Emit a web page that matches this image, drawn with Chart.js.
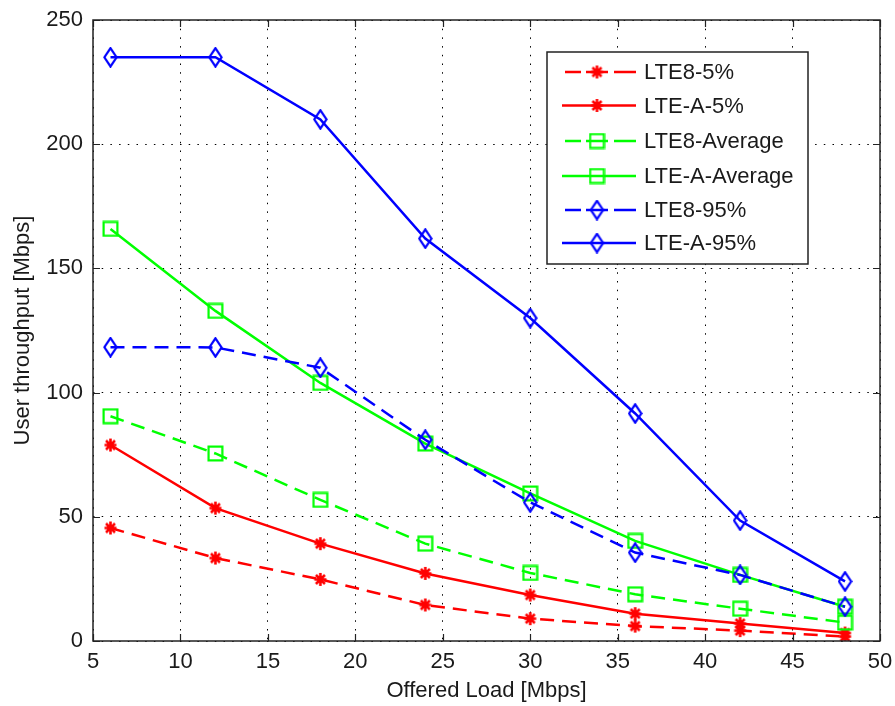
<!DOCTYPE html>
<html><head><meta charset="utf-8">
<script src="https://cdn.jsdelivr.net/npm/chart.js@4.4.0/dist/chart.umd.min.js"></script>
<style>html,body{margin:0;padding:0;background:#fff;}#wrap{width:895px;height:706px;position:relative;}</style>
</head><body><div id="wrap"><canvas id="c" width="895" height="706"></canvas></div>
<script>
const offeredLoad = [6, 12, 18, 24, 30, 36, 42, 48];
const lte8_5   = [45.5, 33.4, 24.8, 14.5, 9.0, 6.0, 4.2, 1.8];
const lteA_5   = [78.9, 53.5, 39.2, 27.2, 18.5, 11.0, 7.0, 3.2];
const lte8_avg = [90.5, 75.5, 56.8, 39.2, 27.4, 18.8, 13.0, 7.4];
const lteA_avg = [165.9, 132.9, 103.9, 79.5, 59.4, 40.3, 26.6, 13.8];
const lte8_95  = [118.3, 118.2, 110.0, 81.0, 55.8, 35.6, 26.6, 13.8];
const lteA_95  = [235.0, 235.0, 210.0, 162.0, 130.0, 91.6, 48.5, 24.0];
const seriesNames = ['LTE8-5%', 'LTE-A-5%', 'LTE8-Average', 'LTE-A-Average', 'LTE8-95%', 'LTE-A-95%'];
const xTicks = [5, 10, 15, 20, 25, 30, 35, 40, 45, 50];
const yTicks = [0, 50, 100, 150, 200, 250];
const xTitle = 'Offered Load [Mbps]';
const yTitle = 'User throughput [Mbps]';

const RED = '#ff0000', GREEN = '#00ff00', BLUE = '#0000ff';
const FONT = "'Liberation Sans', Arial, Helvetica, sans-serif";
const TXT = '#1a1a1a';

function mkCanvas(w, h, draw) {
  const c = document.createElement('canvas');
  c.width = w; c.height = h;
  const g = c.getContext('2d');
  draw(g);
  return c;
}
const starImg = mkCanvas(15, 15, g => {
  g.strokeStyle = RED; g.lineWidth = 2.6; g.lineCap = 'butt';
  g.beginPath();
  g.moveTo(7.5, 1); g.lineTo(7.5, 14);
  g.moveTo(1.5, 7.5); g.lineTo(13.5, 7.5);
  g.moveTo(3, 3); g.lineTo(12, 12);
  g.moveTo(12, 3); g.lineTo(3, 12);
  g.stroke();
});
const squareImg = mkCanvas(17, 17, g => {
  g.strokeStyle = GREEN; g.lineWidth = 2.2;
  g.strokeRect(1.6, 1.6, 13.8, 13.8);
});
const diamondImg = mkCanvas(15, 21, g => {
  g.strokeStyle = BLUE; g.lineWidth = 2.2;
  g.beginPath();
  g.moveTo(7.5, 1.3); g.lineTo(13.6, 10.5); g.lineTo(7.5, 19.7); g.lineTo(1.4, 10.5);
  g.closePath(); g.stroke();
});

const DASH = [14, 8];
function ds(label, data, color, dashed, img, order) {
  return {
    label, data: offeredLoad.map((x, i) => ({x, y: data[i]})),
    borderColor: color, backgroundColor: color, borderWidth: 2.5,
    borderDash: dashed ? DASH : [], tension: 0,
    pointStyle: img, pointRadius: 8, pointHoverRadius: 8,
    _img: img, _dashed: dashed, order
  };
}
const datasets = [
  ds(seriesNames[0], lte8_5, RED, true, starImg, 6),
  ds(seriesNames[1], lteA_5, RED, false, starImg, 5),
  ds(seriesNames[2], lte8_avg, GREEN, true, squareImg, 4),
  ds(seriesNames[3], lteA_avg, GREEN, false, squareImg, 3),
  ds(seriesNames[4], lte8_95, BLUE, true, diamondImg, 2),
  ds(seriesNames[5], lteA_95, BLUE, false, diamondImg, 1)
];

const framePlugin = {
  id: 'frame',
  afterDatasetsDraw(chart) {
    const {ctx, chartArea: a, scales: {x, y}} = chart;
    ctx.save();
    ctx.strokeStyle = '#222'; ctx.lineWidth = 1.5;
    ctx.strokeRect(a.left, a.top, a.right - a.left, a.bottom - a.top);
    ctx.lineWidth = 1.2;
    const tl = 7;
    ctx.beginPath();
    xTicks.forEach(v => {
      const px = Math.round(x.getPixelForValue(v)) + 0.5;
      ctx.moveTo(px, a.bottom); ctx.lineTo(px, a.bottom - tl);
      ctx.moveTo(px, a.top); ctx.lineTo(px, a.top + tl);
    });
    yTicks.forEach(v => {
      const py = Math.round(y.getPixelForValue(v)) + 0.5;
      ctx.moveTo(a.left, py); ctx.lineTo(a.left + tl, py);
      ctx.moveTo(a.right, py); ctx.lineTo(a.right - tl, py);
    });
    ctx.stroke();

    // legend
    const L = 547, T = 52, R = 808, B = 264;
    ctx.fillStyle = '#fff';
    ctx.fillRect(L, T, R - L, B - T);
    ctx.strokeStyle = '#222'; ctx.lineWidth = 1.5;
    ctx.strokeRect(L, T, R - L, B - T);
    ctx.font = '22px ' + FONT;
    ctx.textBaseline = 'middle';
    ctx.textAlign = 'left';
    const rowY = [72, 105.5, 141, 176, 210, 243];
    chart.data.datasets.forEach((d, i) => {
      const yy = rowY[i];
      ctx.strokeStyle = d.borderColor; ctx.lineWidth = 2.5;
      ctx.beginPath();
      if (d._dashed) {
        ctx.moveTo(565, yy); ctx.lineTo(581, yy);
        ctx.moveTo(586, yy); ctx.lineTo(608, yy);
        ctx.moveTo(614, yy); ctx.lineTo(636, yy);
      } else {
        ctx.moveTo(562, yy); ctx.lineTo(636, yy);
      }
      ctx.stroke();
      const im = d._img;
      ctx.drawImage(im, 597 - im.width / 2, yy - im.height / 2);
      ctx.fillStyle = TXT;
      ctx.fillText(d.label, 644, yy + 1);
    });
    ctx.restore();
  }
};

new Chart(document.getElementById('c'), {
  type: 'line',
  data: {datasets},
  plugins: [framePlugin],
  options: {
    responsive: false, animation: false,
    layout: {padding: {left: 0, right: 15, top: 20, bottom: 0}},
    plugins: {legend: {display: false}, tooltip: {enabled: false}},
    scales: {
      x: {
        type: 'linear', min: 5, max: 50,
        afterBuildTicks: s => { s.ticks = xTicks.map(v => ({value: v})); },
        afterFit: s => { s.height = 65; s.paddingRight = 0; s.paddingLeft = 0; },
        ticks: {font: {family: FONT, size: 22}, color: TXT, padding: 8, maxRotation: 0, autoSkip: false},
        grid: {color: '#000', lineWidth: 1, drawTicks: false},
        border: {display: false, dash: [1.5, 7.2]},
        title: {display: true, text: xTitle, font: {family: FONT, size: 22}, color: TXT, padding: {top: 0, bottom: 2}}
      },
      y: {
        type: 'linear', min: 0, max: 250,
        afterBuildTicks: s => { s.ticks = yTicks.map(v => ({value: v})); },
        afterFit: s => { s.width = 93; s.paddingTop = 0; s.paddingBottom = 0; },
        ticks: {font: {family: FONT, size: 22}, color: TXT, padding: 10, autoSkip: false},
        grid: {color: '#000', lineWidth: 1, drawTicks: false},
        border: {display: false, dash: [1.5, 7.2]},
        title: {display: true, text: yTitle, font: {family: FONT, size: 22}, color: TXT, padding: {top: 10, bottom: 0}}
      }
    }
  }
});
</script></body></html>
